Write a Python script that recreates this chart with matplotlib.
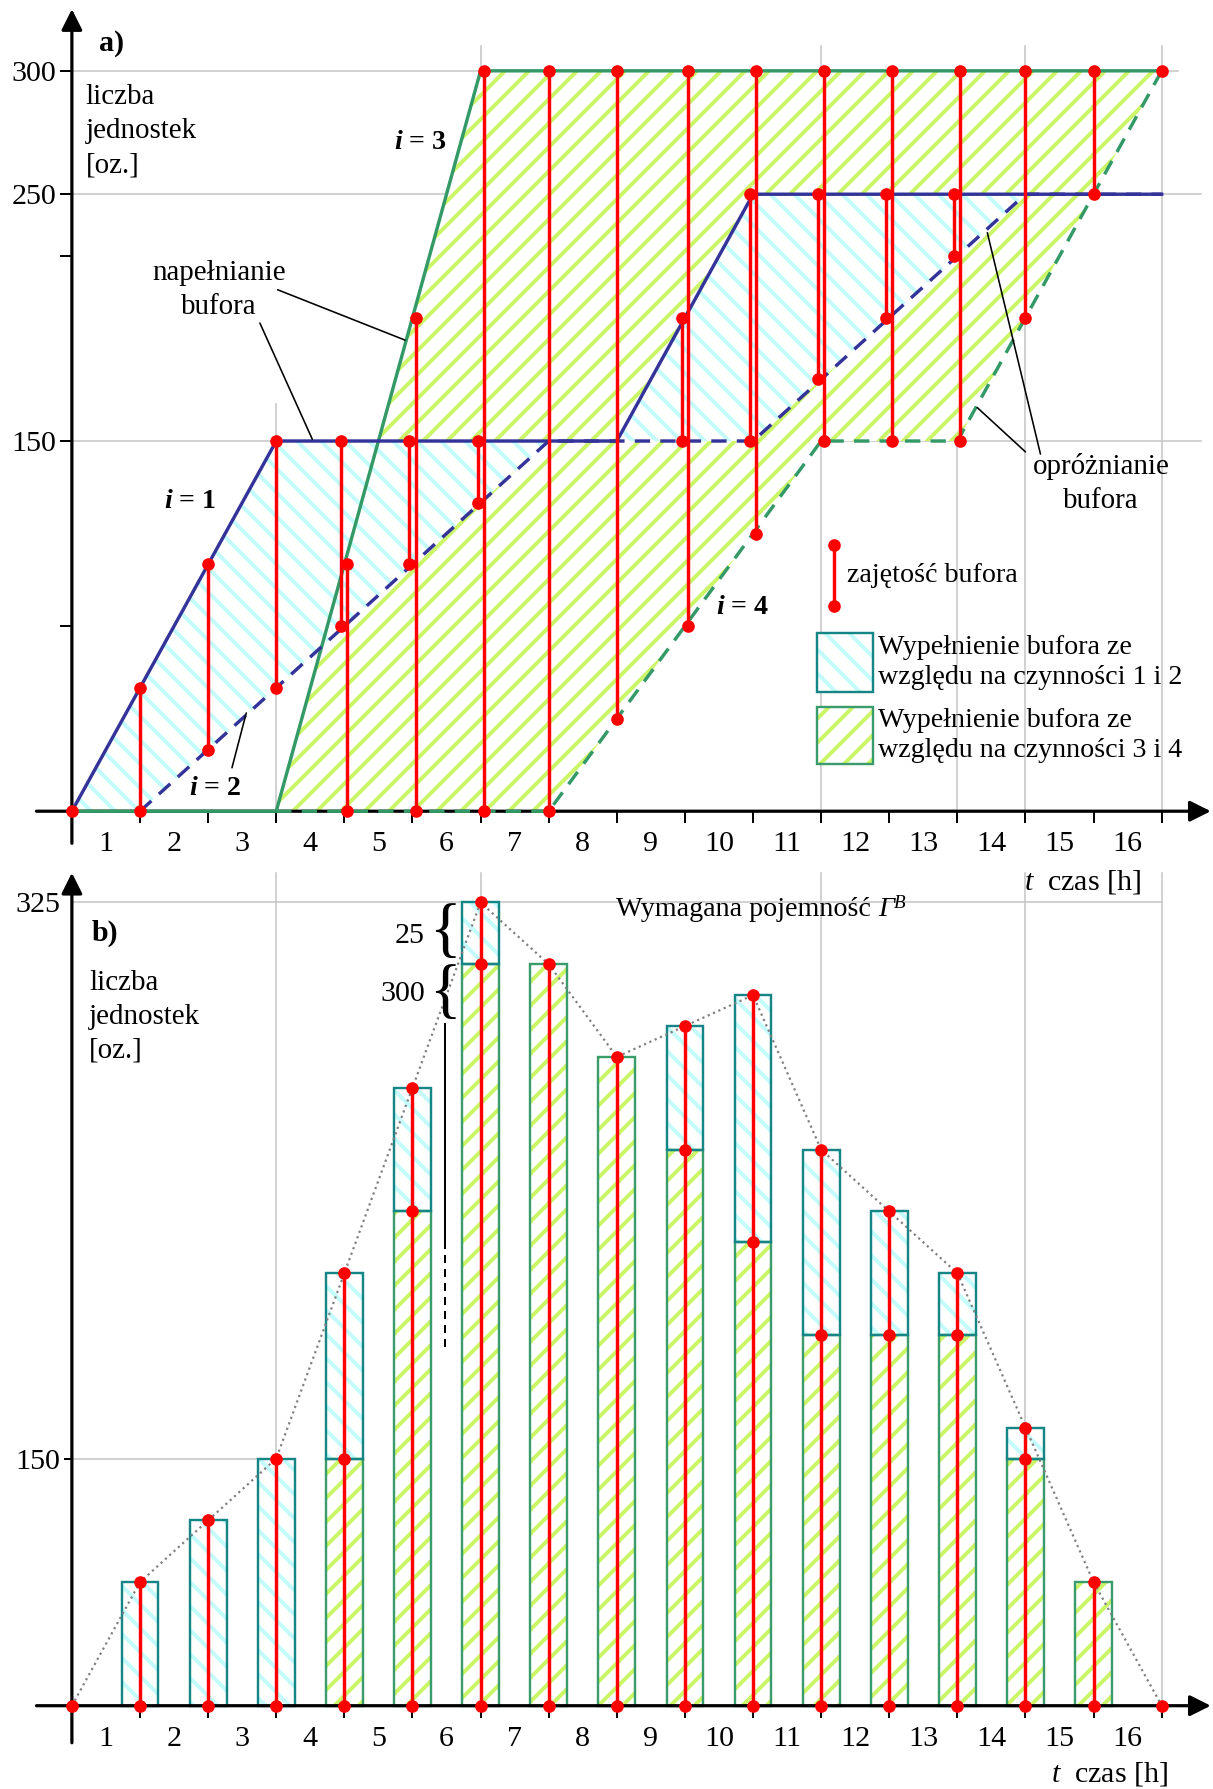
import numpy as np
import matplotlib.pyplot as plt
from matplotlib.patches import Polygon, Rectangle

plt.rcParams['font.family'] = ['Liberation Serif', 'DejaVu Serif']
plt.rcParams['mathtext.fontset'] = 'custom'
plt.rcParams['mathtext.rm'] = 'Liberation Serif'
plt.rcParams['mathtext.it'] = 'Liberation Serif:italic'
plt.rcParams['mathtext.bf'] = 'Liberation Serif:bold'
plt.rcParams['mathtext.bfit'] = 'Liberation Serif:italic:bold'
plt.rcParams['hatch.linewidth'] = 2.0

# --- panel a: cumulative output of operations i = 1..4 (knots of the lines)
i1_t = [0, 3, 8, 10, 16]
i1_v = [0, 150, 150, 250, 250]
i2_t = [1, 7, 10, 14, 16]
i2_v = [0, 150, 150, 250, 250]
i3_t = [0, 3, 6, 16]
i3_v = [0, 0, 300, 300]
i4_t = [3, 7, 11, 13, 16]
i4_v = [0, 0, 150, 150, 300]

# values at the end of every hour (red "zajetosc bufora" bars)
hours = np.arange(1, 17)
i1_h = np.array([50, 100, 150, 150, 150, 150, 150, 150, 200, 250, 250, 250, 250, 250, 250, 250])
i2_h = np.array([0, 25, 50, 75, 100, 125, 150, 150, 150, 150, 175, 200, 225, 250, 250, 250])
i3_h = np.array([0, 0, 0, 100, 200, 300, 300, 300, 300, 300, 300, 300, 300, 300, 300, 300])
i4_h = np.array([0, 0, 0, 0, 0, 0, 0, 37.5, 75, 112.5, 150, 150, 150, 200, 250, 300])

# --- panel b: buffer content per hour
b_hours = np.arange(1, 16)
b_green = np.array([0, 0, 0, 100, 200, 300, 300, 262.5, 225, 187.5, 150, 150, 150, 100, 50])
b_blue = np.array([50, 75, 100, 75, 50, 25, 0, 0, 50, 100, 75, 50, 25, 12.5, 0])

NAVY = '#333399'
GREEN = '#339966'
RED = '#ff0000'
CYAN_H = '#c4fbfb'
LIME_H = '#ccf56a'
TEAL_E = '#168585'
GREEN_E = '#3a9c6c'
GRID = '#c8c8c8'
FS = 15

fig = plt.figure(figsize=(1213 / 144, 1789 / 144), dpi=144)
split = 1 - 760 / 1568
ax = fig.add_axes([0, split, 1, 1 - split])
bx = fig.add_axes([0, 0, 1, split])


def setup(a, ylim, yticks, ylabels, ylen):
    a.set_xlim(-1.0555, 16.753)
    a.set_ylim(*ylim)
    for s in a.spines.values():
        s.set_visible(False)
    a.spines['left'].set_position(('data', 0))
    a.spines['bottom'].set_position(('data', 0))
    a.set_xticks(hours, [''] * len(hours))
    a.set_xticks(hours - 0.5, [str(h) for h in hours], minor=True)
    a.tick_params(axis='x', which='major', direction='out', length=6, width=1)
    a.tick_params(axis='x', which='minor', length=0, pad=10, labelsize=FS)
    a.set_yticks(yticks, ylabels)
    a.tick_params(axis='y', direction='out', length=ylen, width=1, pad=2, labelsize=FS)
    a.patch.set_visible(False)


def axes_arrows(a, ybot, ytop):
    kw = dict(arrowstyle='-|>', color='k', lw=1.6, mutation_scale=22, shrinkA=0, shrinkB=0)
    a.annotate('', xy=(16.72, 0), xytext=(-0.52, 0), arrowprops=kw, zorder=4)
    a.annotate('', xy=(0, ytop), xytext=(0, ybot), arrowprops=kw, zorder=4)


# ================= panel a =================
setup(ax, (-22.65, 328.7), [75, 150, 225, 250, 300], ['', '150', '', '250', '300'], 6)
axes_arrows(ax, -13, 325)

for y, x1 in [(150, 16.57), (250, 16.57), (300, 16.24)]:
    ax.plot([0, x1], [y, y], color=GRID, lw=0.8, zorder=0.5)
for x, y1 in [(3, 165), (6, 310), (11, 310), (13, 150), (14, 310), (16, 310)]:
    ax.plot([x, x], [0, y1], color=GRID, lw=0.8, zorder=0.5)

green_poly = list(zip(i3_t, i3_v)) + list(zip(i4_t, i4_v))[::-1]
blue_poly = list(zip(i1_t, i1_v)) + list(zip(i2_t, i2_v))[::-1]
ax.add_patch(Polygon(green_poly, closed=True, facecolor='white', edgecolor=LIME_H,
                     hatch='//', lw=0, zorder=1))
ax.add_patch(Polygon(blue_poly, closed=True, facecolor='white', edgecolor=CYAN_H,
                     hatch='\\\\', lw=0, zorder=1.5))

ax.plot(i3_t, i3_v, color=GREEN, lw=1.7, zorder=5)
ax.plot(i4_t, i4_v, color=GREEN, lw=1.7, ls=(0, (4.5, 3)), zorder=5)
ax.plot(i2_t, i2_v, color=NAVY, lw=1.7, ls=(0, (4.5, 3)), zorder=5)
ax.plot(i1_t, i1_v, color=NAVY, lw=1.7, zorder=5)

both = (i1_h > i2_h) & (i3_h > i4_h)
xb = np.where(both, hours - 0.045, hours)
xg = np.where(both, hours + 0.045, hours)
for xs, lo, hi in [(xb, i2_h, i1_h), (xg, i4_h, i3_h)]:
    m = hi > lo
    ax.vlines(xs[m], lo[m], hi[m], color=RED, lw=1.7, zorder=6)
    ax.plot(np.r_[xs[m], xs[m]], np.r_[lo[m], hi[m]], 'o', color=RED, ms=5.3, zorder=7)
ax.plot([i1_t[0], hours[-1]], [i1_v[0], i3_h[-1]], 'o', color=RED, ms=5.3, zorder=7, clip_on=False)

lead = dict(arrowstyle='-', color='k', lw=0.8, shrinkA=0, shrinkB=0)
ax.text(0.40, 311, 'a)', fontsize=FS, fontweight='bold', va='center')
ax.text(0.20, 275.5, 'liczba\njednostek\n[oz.]', fontsize=14.5, va='center', linespacing=1.4)
ax.text(5.11, 271, r'$\mathbfit{i}$ = 3', fontsize=14, fontweight='bold', ha='center', va='center')
ax.text(1.74, 125.3, r'$\mathbfit{i}$ = 1', fontsize=14, fontweight='bold', ha='center', va='center')
ax.text(2.11, 9.2, r'$\mathbfit{i}$ = 2', fontsize=14, fontweight='bold', ha='center', va='center')
ax.text(9.85, 82.7, r'$\mathbfit{i}$ = 4', fontsize=14, fontweight='bold', ha='center', va='center')
ax.text(2.16, 211, 'napełnianie\nbufora', fontsize=14.5, ha='center', va='center', linespacing=1.4)
ax.text(15.11, 132.7, 'opróżnianie\nbufora', fontsize=14.5, ha='center', va='center', linespacing=1.4)
ax.annotate('', xy=(4.89, 190.9), xytext=(3.02, 211.3), arrowprops=lead, zorder=5)
ax.annotate('', xy=(3.53, 150.7), xytext=(2.76, 197.8), arrowprops=lead, zorder=5)
ax.annotate('', xy=(2.56, 39.8), xytext=(2.35, 17.6), arrowprops=lead, zorder=5)
ax.annotate('', xy=(13.44, 234.4), xytext=(14.22, 144.7), arrowprops=lead, zorder=5)
ax.annotate('', xy=(13.29, 163.6), xytext=(14.0, 145.6), arrowprops=lead, zorder=5)
ax.text(15.70, -28.6, r'$\mathit{t}$  czas [h]', fontsize=FS, ha='right', va='center')

# legend drawn by hand
ax.plot([11.19, 11.19], [83.2, 107.7], color=RED, lw=1.7, marker='o', ms=5.3, zorder=7)
ax.text(11.38, 95.7, 'zajętość bufora', fontsize=14, va='center')
for (y0, y1), hc, hp, ec, txt in [((48.5, 72.1), CYAN_H, '\\\\', TEAL_E, '1 i 2'),
                                   ((19.0, 42.1), LIME_H, '//', GREEN_E, '3 i 4')]:
    ax.add_patch(Rectangle((10.94, y0), 0.82, y1 - y0, facecolor='white', edgecolor=hc,
                           hatch=hp, lw=0, zorder=6))
    ax.add_patch(Rectangle((10.94, y0), 0.82, y1 - y0, fill=False, edgecolor=ec, lw=1.2, zorder=6))
    ax.text(11.84, (y0 + y1) / 2, 'Wypełnienie bufora ze\nwzględu na czynności ' + txt,
            fontsize=14, va='center', linespacing=1.25)

# ================= panel b =================
setup(bx, (-33.7, 339.3), [100, 325], ['150', '325'], 4)
bx.yaxis.get_major_ticks()[1].tick1line.set_visible(False)
axes_arrows(bx, -15, 337)

bx.plot([0, 3], [100, 100], color=GRID, lw=0.8, zorder=0.5)
bx.plot([0, 16], [325, 325], color=GRID, lw=0.8, zorder=0.5)
for x in [3, 6, 11, 14, 16]:
    bx.plot([x, x], [0, 337], color=GRID, lw=0.8, zorder=0.5)

W = 0.54
total = b_green + b_blue
mg = b_green > 0
mb = b_blue > 0
bx.bar(b_hours[mg], b_green[mg], W, color='white', edgecolor=LIME_H, hatch='//', lw=0, zorder=1)
bx.bar(b_hours[mg], b_green[mg], W, fill=False, edgecolor=GREEN_E, lw=1.2, zorder=2)
bx.bar(b_hours[mb], b_blue[mb], W, bottom=b_green[mb], color='white', edgecolor=CYAN_H,
       hatch='\\\\', lw=0, zorder=1)
bx.bar(b_hours[mb], b_blue[mb], W, bottom=b_green[mb], fill=False, edgecolor=TEAL_E, lw=1.2, zorder=2)

bx.plot(np.r_[0, b_hours, 16], np.r_[0, total, 0], color='#808080', lw=1.1, ls=':', zorder=3)
bx.vlines(b_hours, 0, total, color=RED, lw=1.7, zorder=6)
split_m = mg & mb
bx.plot(np.r_[0, b_hours, b_hours, b_hours[split_m], 16],
        np.r_[0, np.zeros(len(b_hours)), total, b_green[split_m], 0],
        'o', color=RED, ms=5.3, zorder=7, clip_on=False)

bx.text(0.285, 312.5, 'b)', fontsize=FS, fontweight='bold', va='center')
bx.text(0.25, 278.8, 'liczba\njednostek\n[oz.]', fontsize=14.5, va='center', linespacing=1.4)
bx.text(5.18, 311.6, '25', fontsize=FS, ha='right', va='center')
bx.text(5.18, 288.1, '300', fontsize=FS, ha='right', va='center')
bx.text(5.48, 312.5, '{', fontsize=33, ha='center', va='center', fontweight='light')
bx.text(5.48, 288.0, '{', fontsize=33, ha='center', va='center', fontweight='light')
bx.plot([5.48, 5.48], [186, 276], color='k', lw=1.0)
bx.plot([5.48, 5.48], [145, 186], color='k', lw=1.0, ls=(0, (4, 3)))
cap = bx.text(7.99, 322.2, 'Wymagana pojemność ', fontsize=14, va='center')
gam = bx.annotate('Γ', xy=(1, 0.5), xycoords=cap, fontsize=14, style='italic', va='center')
bx.annotate('B', xy=(1, 0.75), xycoords=gam, fontsize=9.5, style='italic', va='center')
bx.text(16.10, -27.7, r'$\mathit{t}$  czas [h]', fontsize=FS, ha='right', va='center')

fig.savefig('out.png', dpi=144)
